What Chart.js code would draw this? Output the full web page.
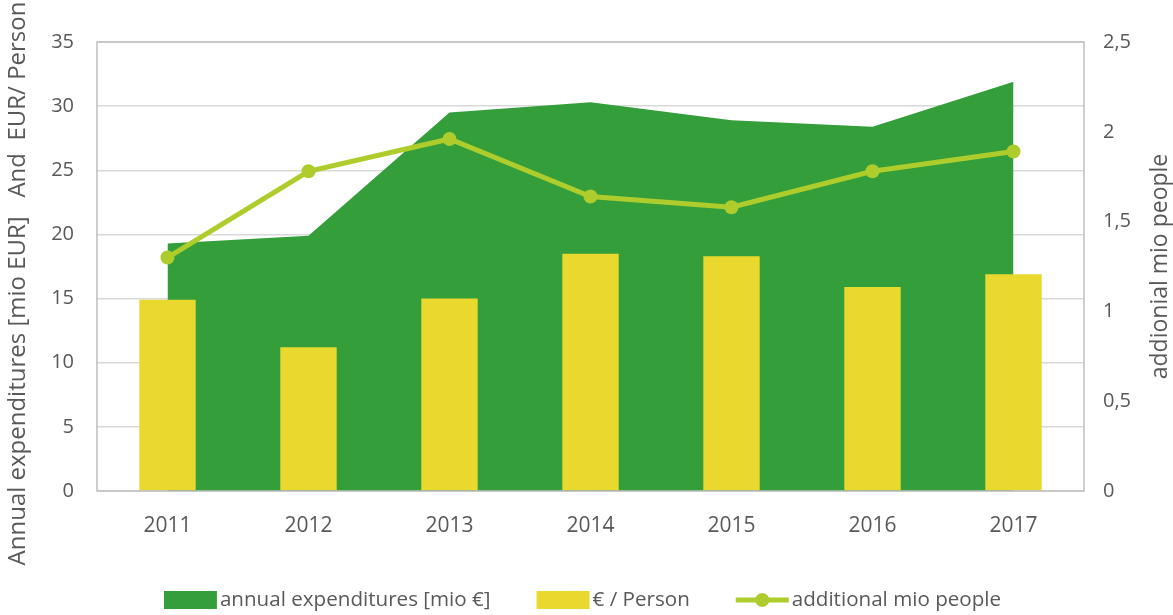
<!DOCTYPE html>
<html><head><meta charset="utf-8">
<script src="https://cdn.jsdelivr.net/npm/chart.js@4/dist/chart.umd.min.js"></script>
<style>html,body{margin:0;padding:0;background:#fff}#wrap{width:1173px;height:615px}</style>
</head><body><div id="wrap"><canvas id="c" width="1173" height="615"></canvas></div>
<script>
const categories = ['2011','2012','2013','2014','2015','2016','2017'];
const annualExpenditures = [19.3, 19.9, 29.5, 30.3, 28.9, 28.4, 31.9];
const eurPerPerson = [14.9, 11.2, 15.0, 18.5, 18.3, 15.9, 16.9];
const additionalMioPeople = [1.30, 1.78, 1.96, 1.64, 1.58, 1.78, 1.89];
const leftTicks = [0, 5, 10, 15, 20, 25, 30, 35];
const rightTicks = ['0', '0,5', '1', '1,5', '2', '2,5'];
const leftTitle = 'Annual expenditures [mio EUR]   And  EUR/ Person';
const rightTitle = 'addionial mio people';

const GREEN = '#339E3A', YELLOW = '#E9D82D', LIME = '#AECD2D', TEXT = '#595959';
const FONT = '"Open Sans", sans-serif';

function vText(ctx, text, x, y, size) {
  ctx.save();
  ctx.fillStyle = TEXT;
  ctx.font = size + 'px ' + FONT;
  ctx.textAlign = 'center'; ctx.textBaseline = 'middle';
  ctx.translate(x, y);
  ctx.rotate(-Math.PI / 2);
  ctx.fillText(text, 0, 0);
  ctx.restore();
}

const boxPlugin = {
  id: 'box',
  afterDatasetsDraw(chart) {
    const a = chart.chartArea, ctx = chart.ctx;
    ctx.save();
    ctx.strokeStyle = '#BFBFBF'; ctx.lineWidth = 1.5;
    ctx.strokeRect(a.left, a.top, a.right - a.left, a.bottom - a.top);
    ctx.restore();
  },
  afterDraw(chart) {
    const ctx = chart.ctx, a = chart.chartArea;
    vText(ctx, leftTitle, 18, (a.top + a.bottom) / 2 + 17, 24);
    vText(ctx, rightTitle, chart.width - 13, (a.top + a.bottom) / 2, 23);
    // legend
    const ds = chart.data.datasets;
    const boxW = 53, boxH = 18, gap = 3, itemGap = 46;
    ctx.save();
    ctx.font = '20.6px ' + FONT;
    const widths = ds.map(d => boxW + gap + ctx.measureText(d.label).width);
    const total = widths.reduce((s, w) => s + w, 0) + itemGap * (ds.length - 1);
    let x = (chart.width - total) / 2 - 4;
    const cy = 600;
    ds.forEach((d, i) => {
      if (i === 2) {
        ctx.strokeStyle = LIME; ctx.lineWidth = 5;
        ctx.beginPath(); ctx.moveTo(x, cy); ctx.lineTo(x + boxW, cy); ctx.stroke();
        ctx.fillStyle = LIME;
        ctx.beginPath(); ctx.arc(x + boxW / 2, cy, 7, 0, Math.PI * 2); ctx.fill();
      } else {
        ctx.fillStyle = d.backgroundColor;
        ctx.fillRect(x, cy - boxH / 2, boxW, boxH);
      }
      ctx.fillStyle = TEXT; ctx.textAlign = 'left'; ctx.textBaseline = 'middle';
      ctx.fillText(d.label, x + boxW + gap, cy);
      x += widths[i] + itemGap;
    });
    ctx.restore();
  }
};

new Chart(document.getElementById('c'), {
  data: {
    labels: categories,
    datasets: [
      { type: 'line', label: 'annual expenditures [mio €]', data: annualExpenditures, yAxisID: 'y',
        fill: 'origin', backgroundColor: GREEN, borderColor: GREEN, borderWidth: 0, pointRadius: 0,
        tension: 0, order: 3 },
      { type: 'bar', label: '€ / Person', data: eurPerPerson, yAxisID: 'y',
        backgroundColor: YELLOW, borderWidth: 0, barPercentage: 0.4, categoryPercentage: 1.0, order: 2 },
      { type: 'line', label: 'additional mio people', data: additionalMioPeople, yAxisID: 'y1',
        borderColor: LIME, backgroundColor: LIME, borderWidth: 5, pointRadius: 7, pointHoverRadius: 7,
        pointBackgroundColor: LIME, pointBorderWidth: 0, tension: 0, fill: false, order: 1 }
    ]
  },
  options: {
    responsive: false, animation: false, devicePixelRatio: 1,
    layout: { padding: { top: 42, left: 0, right: 0, bottom: 0 } },
    plugins: { tooltip: { enabled: false }, legend: { display: false } },
    scales: {
      x: {
        offset: true,
        grid: { display: false },
        border: { display: false },
        ticks: { font: { family: FONT, size: 21 }, color: TEXT, padding: 14 },
        afterFit(s) { s.height = 124; }
      },
      y: {
        position: 'left', min: 0, max: 35,
        afterBuildTicks(s) { s.ticks = leftTicks.map(v => ({ value: v })); },
        grid: { color: '#D9D9D9', lineWidth: 1.5, drawTicks: false },
        border: { display: false },
        ticks: { font: { family: FONT, size: 20 }, color: TEXT, padding: 23 },
        afterFit(s) { s.width = 97; }
      },
      y1: {
        position: 'right', min: 0, max: 2.5,
        afterBuildTicks(s) { s.ticks = rightTicks.map((t, i) => ({ value: i * 0.5 })); },
        grid: { drawOnChartArea: false, drawTicks: false },
        border: { display: false },
        ticks: { font: { family: FONT, size: 20 }, color: TEXT, padding: 19,
          callback(v, i) { return rightTicks[i]; } },
        afterFit(s) { s.width = 89; }
      }
    }
  },
  plugins: [boxPlugin]
});
</script></body></html>
